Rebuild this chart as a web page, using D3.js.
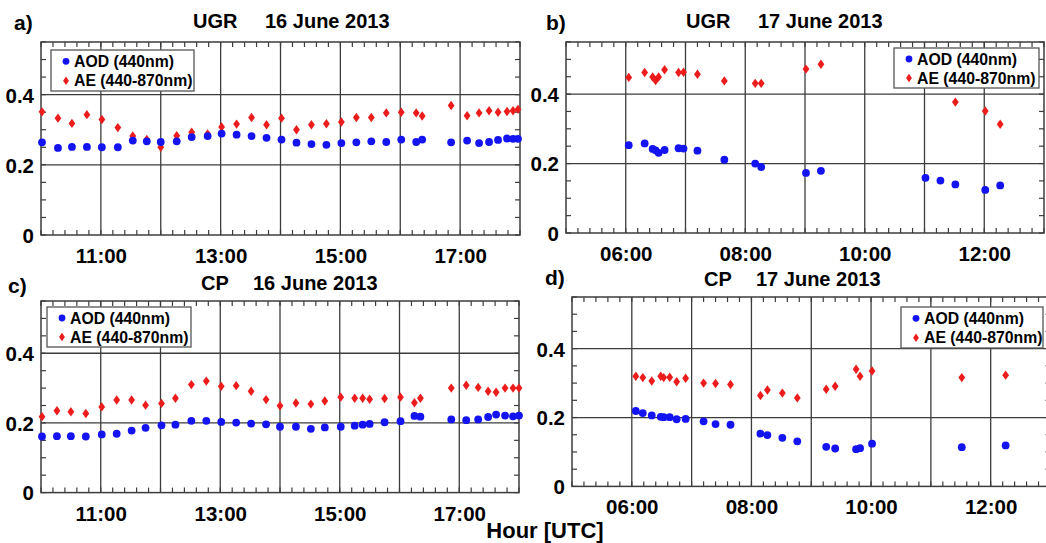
<!DOCTYPE html>
<html>
<head>
<meta charset="utf-8">
<script src="https://cdn.jsdelivr.net/npm/d3@7"></script>
<style>
  body { margin: 0; background: #fff; }
  svg text { font-family: "Liberation Sans", Arial, sans-serif; font-weight: bold; fill: #000; }
</style>
</head>
<body>
<svg id="fig" width="1046" height="543"></svg>
<script>
`use strict`;

// a) UGR 16 June
const ugr16Time = [`10:01`, `10:17`, `10:31`, `10:46`, `11:01`, `11:17`, `11:32`, `11:46`, `12:00`, `12:16`, `12:31`, `12:47`, `13:01`, `13:16`, `13:31`, `13:46`, `14:01`, `14:16`, `14:31`, `14:46`, `15:01`, `15:16`, `15:31`, `15:46`, `16:01`, `16:16`, `16:22`, `16:51`, `17:07`, `17:19`, `17:29`, `17:38`, `17:47`, `17:53`, `17:58`];
const ugr16Aod = [0.264, 0.248, 0.251, 0.251, 0.250, 0.250, 0.269, 0.267, 0.265, 0.267, 0.279, 0.282, 0.289, 0.286, 0.282, 0.277, 0.272, 0.263, 0.259, 0.257, 0.262, 0.264, 0.267, 0.265, 0.272, 0.265, 0.272, 0.264, 0.269, 0.262, 0.265, 0.271, 0.275, 0.274, 0.274];
const ugr16Ae = [0.351, 0.333, 0.318, 0.343, 0.329, 0.306, 0.282, 0.272, 0.250, 0.283, 0.293, 0.288, 0.308, 0.316, 0.335, 0.314, 0.333, 0.300, 0.314, 0.317, 0.322, 0.335, 0.335, 0.348, 0.350, 0.348, 0.339, 0.369, 0.340, 0.348, 0.354, 0.350, 0.352, 0.354, 0.358];

// b) UGR 17 June
const ugr17AodTime = [`06:03`, `06:19`, `06:27`, `06:30`, `06:33`, `06:39`, `06:53`, `06:58`, `07:12`, `07:39`, `08:10`, `08:16`, `09:01`, `09:16`, `11:01`, `11:16`, `11:31`, `12:01`, `12:16`];
const ugr17Aod = [0.253, 0.258, 0.242, 0.238, 0.231, 0.239, 0.244, 0.243, 0.237, 0.211, 0.200, 0.190, 0.173, 0.179, 0.159, 0.151, 0.140, 0.124, 0.137];
const ugr17AeTime = [`06:03`, `06:19`, `06:27`, `06:30`, `06:33`, `06:39`, `06:53`, `06:58`, `07:12`, `07:39`, `08:10`, `08:16`, `09:01`, `09:16`, `11:31`, `12:01`, `12:16`];
const ugr17Ae = [0.448, 0.462, 0.449, 0.439, 0.449, 0.470, 0.462, 0.463, 0.457, 0.438, 0.431, 0.431, 0.472, 0.486, 0.377, 0.351, 0.313];

// c) CP 16 June
const cp16Time = [`10:01`, `10:16`, `10:30`, `10:45`, `11:01`, `11:16`, `11:31`, `11:45`, `12:01`, `12:15`, `12:31`, `12:46`, `13:01`, `13:16`, `13:31`, `13:46`, `14:00`, `14:16`, `14:31`, `14:45`, `15:01`, `15:15`, `15:23`, `15:30`, `15:45`, `16:01`, `16:15`, `16:21`, `16:52`, `17:07`, `17:19`, `17:29`, `17:37`, `17:46`, `17:54`, `18:00`];
const cp16Aod = [0.161, 0.162, 0.162, 0.161, 0.167, 0.169, 0.178, 0.186, 0.193, 0.195, 0.206, 0.206, 0.203, 0.201, 0.198, 0.196, 0.189, 0.189, 0.183, 0.187, 0.189, 0.192, 0.195, 0.197, 0.202, 0.205, 0.220, 0.218, 0.210, 0.208, 0.210, 0.217, 0.224, 0.221, 0.219, 0.221];
const cp16Ae = [0.218, 0.235, 0.232, 0.227, 0.246, 0.266, 0.266, 0.251, 0.256, 0.271, 0.310, 0.320, 0.305, 0.307, 0.291, 0.267, 0.249, 0.257, 0.254, 0.263, 0.274, 0.271, 0.271, 0.268, 0.270, 0.274, 0.258, 0.271, 0.300, 0.308, 0.302, 0.291, 0.288, 0.300, 0.300, 0.300];

// d) CP 17 June
const cp17Time = [`06:04`, `06:11`, `06:20`, `06:29`, `06:32`, `06:38`, `06:45`, `06:54`, `07:12`, `07:24`, `07:39`, `08:09`, `08:16`, `08:31`, `08:46`, `09:15`, `09:24`, `09:45`, `09:49`, `10:01`, `11:31`, `12:15`];
const cp17Aod = [0.219, 0.213, 0.206, 0.202, 0.201, 0.201, 0.195, 0.196, 0.189, 0.181, 0.179, 0.153, 0.149, 0.141, 0.131, 0.115, 0.110, 0.108, 0.111, 0.124, 0.114, 0.119];
const cp17Ae = [0.320, 0.316, 0.306, 0.320, 0.316, 0.317, 0.304, 0.314, 0.300, 0.299, 0.296, 0.264, 0.280, 0.271, 0.257, 0.282, 0.291, 0.340, 0.320, 0.335, 0.316, 0.323];

const yTicks = [0, 0.2, 0.4];
const ticks16 = [`11:00`, `13:00`, `15:00`, `17:00`];
const ticks17 = [`06:00`, `08:00`, `10:00`, `12:00`];
const legendLabels = [`AOD (440nm)`, `AE (440-870nm)`];

(function () {

  const BLUE = `#1414f2`, RED = `#ec1c1c`, GRID = `#3c3c3c`;

  const hrs = s => {
    let [h, m] = s.split(`:`).map(Number);
    return h + m / 60;
  }

  const diamond = `M0,-4.7L3.4,0L0,4.7L-3.4,0Z`;

  const svg = d3.select(`#fig`);

  // panel layout, px
  const Panels = [
    {tag: `a)`, tagAt: [14, 30], site: `UGR`, day: `16 June 2013`, titleAt: [193, 265, 28],
      box: [41, 42, 520, 235], span: [`10:00`, `18:00`], ticks: ticks16,
      aod: [ugr16Time, ugr16Aod], ae: [ugr16Time, ugr16Ae], legend: [51, 50, 194, 91]},
    {tag: `b)`, tagAt: [546, 30], site: `UGR`, day: `17 June 2013`, titleAt: [686, 758, 28],
      box: [566, 42, 1044, 233], span: [`05:00`, `13:00`], ticks: ticks17,
      aod: [ugr17AodTime, ugr17Aod], ae: [ugr17AeTime, ugr17Ae], legend: [894, 48, 1039, 88]},
    {tag: `c)`, tagAt: [8, 293], site: `CP`, day: `16 June 2013`, titleAt: [201, 253, 290],
      box: [41, 301, 519, 492.6], span: [`10:00`, `18:00`], ticks: ticks16,
      aod: [cp16Time, cp16Aod], ae: [cp16Time, cp16Ae], legend: [47, 307, 191, 347]},
    {tag: `d)`, tagAt: [545, 285], site: `CP`, day: `17 June 2013`, titleAt: [704, 756, 286],
      box: [572, 297, 1050.5, 486.4], span: [`05:00`, `13:00`], ticks: ticks17,
      aod: [cp17Time, cp17Aod], ae: [cp17Time, cp17Ae], legend: [901, 307, 1043, 348]}
  ];

  let drawPanel = P => {

    let [x0, y0, x1, y1] = P.box;

    let X = d3.scaleLinear().domain(P.span.map(hrs)).range([x0, x1]);

    let Y = d3.scaleLinear().domain([0, 0.55]).range([y1, y0]);

    let g = svg.append(`g`);

    let [h0, h1] = X.domain();

    // minor ticks: 12 min on x, 0.05 on y
    let xMinor = d3.range(h0, h1 + 1e-6, 0.2);
    let yMinor = d3.range(0, 0.551, 0.05);

    g.append(`g`).selectAll(`line`).data(xMinor)
      .join(`line`)
      .attr(`x1`, d => X(d)).attr(`x2`, d => X(d))
      .attr(`y1`, y0).attr(`y2`, y0 + 5)
      .attr(`stroke`, GRID).attr(`stroke-width`, 1.2);

    g.append(`g`).selectAll(`line`).data(xMinor)
      .join(`line`)
      .attr(`x1`, d => X(d)).attr(`x2`, d => X(d))
      .attr(`y1`, y1).attr(`y2`, y1 - 5)
      .attr(`stroke`, GRID).attr(`stroke-width`, 1.2);

    g.append(`g`).selectAll(`line`).data(yMinor)
      .join(`line`)
      .attr(`x1`, x0).attr(`x2`, x0 + 5)
      .attr(`y1`, d => Y(d)).attr(`y2`, d => Y(d))
      .attr(`stroke`, GRID).attr(`stroke-width`, 1.2);

    g.append(`g`).selectAll(`line`).data(yMinor)
      .join(`line`)
      .attr(`x1`, x1).attr(`x2`, x1 - 5)
      .attr(`y1`, d => Y(d)).attr(`y2`, d => Y(d))
      .attr(`stroke`, GRID).attr(`stroke-width`, 1.2);

    // grid
    g.append(`g`).selectAll(`line`).data(d3.range(h0 + 1, h1))
      .join(`line`)
      .attr(`x1`, d => X(d)).attr(`x2`, d => X(d))
      .attr(`y1`, y0).attr(`y2`, y1)
      .attr(`stroke`, GRID).attr(`stroke-width`, 1.3);

    g.append(`g`).selectAll(`line`).data(yTicks.filter(d => d > 0))
      .join(`line`)
      .attr(`x1`, x0).attr(`x2`, x1)
      .attr(`y1`, d => Y(d)).attr(`y2`, d => Y(d))
      .attr(`stroke`, GRID).attr(`stroke-width`, 1.3);

    g.append(`rect`)
      .attr(`x`, x0).attr(`y`, y0)
      .attr(`width`, x1 - x0).attr(`height`, y1 - y0)
      .attr(`fill`, `none`).attr(`stroke`, GRID).attr(`stroke-width`, 1.5);

    // axes labels
    g.append(`g`)
      .attr(`transform`, `translate(0,${y1})`)
      .call(d3.axisBottom(X).tickValues(P.ticks.map(hrs)).tickSize(0)
        .tickFormat((d, i) => P.ticks[i]))
      .call(a => a.select(`.domain`).remove())
      .call(a => a.selectAll(`text`).attr(`dy`, null).attr(`y`, 28)
        .attr(`font-size`, 20.5).attr(`font-family`, null));

    g.append(`g`)
      .attr(`transform`, `translate(${x0},0)`)
      .call(d3.axisLeft(Y).tickValues(yTicks).tickSize(0).tickPadding(7)
        .tickFormat(d => d === 0 ? `0` : d.toFixed(1)))
      .call(a => a.select(`.domain`).remove())
      .call(a => a.selectAll(`text`).attr(`dy`, `0.36em`)
        .attr(`font-size`, 20.5).attr(`font-family`, null));

    // data
    g.append(`g`).selectAll(`path`).data(d3.zip(P.ae[0], P.ae[1]))
      .join(`path`)
      .attr(`d`, diamond)
      .attr(`transform`, d => `translate(${X(hrs(d[0]))},${Y(d[1])})`)
      .attr(`fill`, RED);

    g.append(`g`).selectAll(`circle`).data(d3.zip(P.aod[0], P.aod[1]))
      .join(`circle`)
      .attr(`cx`, d => X(hrs(d[0])))
      .attr(`cy`, d => Y(d[1]))
      .attr(`r`, 3.9)
      .attr(`fill`, BLUE);

    // legend
    let [lx0, ly0, lx1, ly1] = P.legend;

    let L = g.append(`g`);

    L.append(`rect`)
      .attr(`x`, lx0).attr(`y`, ly0)
      .attr(`width`, lx1 - lx0).attr(`height`, ly1 - ly0)
      .attr(`fill`, `#fff`).attr(`stroke`, `#555`).attr(`stroke-width`, 1.3);

    let rowH = (ly1 - ly0) / 2;

    L.append(`circle`)
      .attr(`cx`, lx0 + 15).attr(`cy`, ly0 + rowH * 0.55)
      .attr(`r`, 3.4).attr(`fill`, BLUE);

    L.append(`path`)
      .attr(`d`, `M0,-4.2L2.9,0L0,4.2L-2.9,0Z`)
      .attr(`transform`, `translate(${lx0 + 15},${ly0 + rowH * 1.5})`)
      .attr(`fill`, RED);

    L.selectAll(`text`).data(legendLabels)
      .join(`text`)
      .attr(`x`, lx0 + 23)
      .attr(`y`, (d, i) => ly0 + rowH * (0.55 + i * 0.95))
      .attr(`dy`, `0.36em`)
      .attr(`font-size`, 15.8)
      .text(d => d);

    // headings
    svg.append(`text`)
      .attr(`x`, P.tagAt[0]).attr(`y`, P.tagAt[1])
      .attr(`font-size`, 21)
      .text(P.tag);

    svg.append(`text`)
      .attr(`x`, P.titleAt[0]).attr(`y`, P.titleAt[2])
      .attr(`font-size`, 20)
      .text(P.site);

    svg.append(`text`)
      .attr(`x`, P.titleAt[1]).attr(`y`, P.titleAt[2])
      .attr(`font-size`, 20)
      .text(P.day);
  }

  Panels.forEach(drawPanel);

  svg.append(`text`)
    .attr(`x`, 545).attr(`y`, 538)
    .attr(`text-anchor`, `middle`)
    .attr(`font-size`, 22)
    .text(`Hour [UTC]`);

})();
</script>
</body>
</html>
